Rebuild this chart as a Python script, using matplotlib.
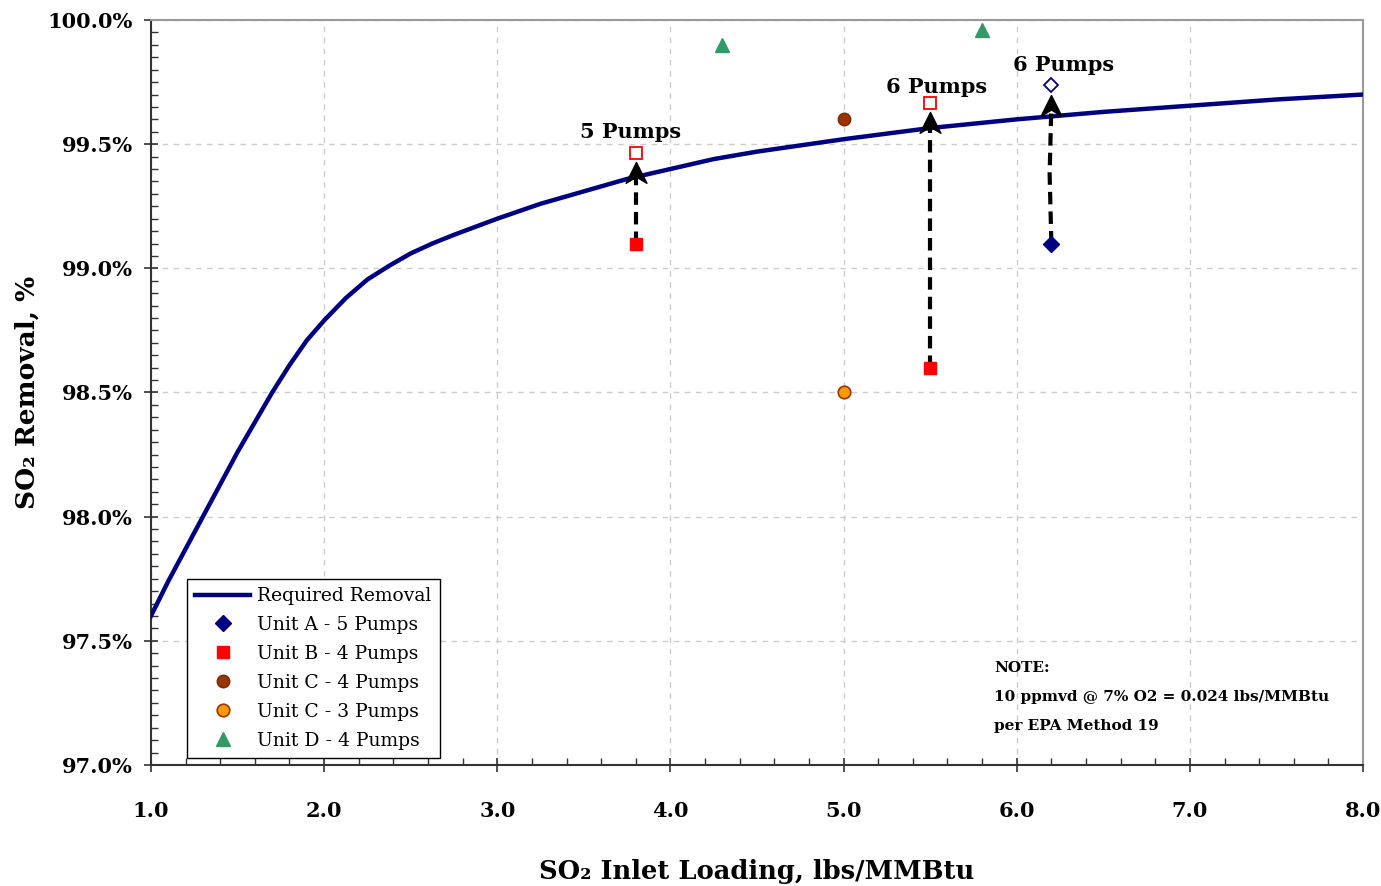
import matplotlib
matplotlib.use("Agg")
import matplotlib.pyplot as plt
from matplotlib.path import Path
from matplotlib.ticker import MultipleLocator, FuncFormatter

plt.rcParams['font.family'] = ['DejaVu Serif', 'DejaVu Sans']

# required removal curve
load = [1.0, 1.1, 1.2, 1.3, 1.4, 1.5, 1.6, 1.7, 1.8, 1.9, 2.0, 2.125, 2.25, 2.375,
        2.5, 2.625, 2.75, 3.0, 3.25, 3.5, 3.75, 4.0, 4.25, 4.5, 5.0, 5.5, 6.0,
        6.5, 7.0, 7.5, 8.0]
required = [97.60, 97.74, 97.87, 98.00, 98.13, 98.26, 98.38, 98.50, 98.61, 98.71,
            98.79, 98.88, 98.955, 99.01, 99.06, 99.10, 99.135, 99.20, 99.26, 99.31,
            99.36, 99.40, 99.44, 99.47, 99.52, 99.565, 99.60, 99.63, 99.655, 99.68,
            99.70]

# unit test points
unit_a_x, unit_a_y = [6.2], [99.10]
unit_b_x, unit_b_y = [3.8, 5.5], [99.10, 98.60]
unit_c4_x, unit_c4_y = [5.0], [99.60]
unit_c3_x, unit_c3_y = [5.0], [98.50]
unit_d_x, unit_d_y = [4.3, 5.8], [99.90, 99.96]

# added pumps
more_b_x, more_b_y = [3.8, 5.5], [99.465, 99.665]
more_a_x, more_a_y = [6.2], [99.74]

# arrows: start, tip, label
arrow_x = [3.8, 5.5, 6.2]
arrow_start = [99.10, 98.60, 99.10]
arrow_tip = [99.43, 99.63, 99.70]
pump_labels = ['5 Pumps', '6 Pumps', '6 Pumps']
label_x = [3.77, 5.535, 6.27]
label_y = [99.55, 99.73, 99.82]

fig = plt.figure(figsize=(13.81, 8.86), dpi=100)
ax = fig.add_axes([0.1093, 0.1366, 0.8777, 0.8408])

ax.plot(load, required, color='#000080', lw=3.2, label='Required Removal', zorder=4)

ax.plot(unit_a_x, unit_a_y, 'D', color='#000080', ms=8.5, ls='none', label='Unit A - 5 Pumps', zorder=6)
ax.plot(unit_b_x, unit_b_y, 's', color='#ff0000', ms=8.5, ls='none', label='Unit B - 4 Pumps', zorder=6)
ax.plot(unit_c4_x, unit_c4_y, 'o', mfc='#993300', mec='#7a2800', ms=9, ls='none', label='Unit C - 4 Pumps', zorder=6)
ax.plot(unit_c3_x, unit_c3_y, 'o', mfc='#ff9900', mec='#993300', mew=1.2, ms=9, ls='none', label='Unit C - 3 Pumps', zorder=6)
ax.plot(unit_d_x, unit_d_y, '^', color='#339966', ms=10.5, ls='none', label='Unit D - 4 Pumps', zorder=6)

ax.plot(more_b_x, more_b_y, 's', mfc='white', mec='#ff0000', mew=1.3, ms=8.5, ls='none', zorder=6)
ax.plot(more_a_x, more_a_y, 'D', mfc='white', mec='#000080', mew=1.3, ms=7, ls='none', zorder=6)

# stealth style arrow head, tip at the data point
head = Path([(0, 0), (-0.5, -1), (0, -0.7), (0.5, -1), (0, 0)],
            [Path.MOVETO, Path.LINETO, Path.LINETO, Path.LINETO, Path.CLOSEPOLY])
for i in range(len(arrow_x)):
    xs = [arrow_x[i], arrow_x[i]]
    ys = [arrow_start[i], arrow_tip[i] - 0.04]
    if i == 2:
        xs = [arrow_x[i], arrow_x[i] - 0.01, arrow_x[i]]
        ys = [arrow_start[i], 99.38, arrow_tip[i] - 0.04]
    ax.plot(xs, ys, color='black', lw=3, dashes=(3, 1.7), zorder=5)
    ax.plot(arrow_x[i], arrow_tip[i], marker=head, color='black', ms=30, zorder=7)
    ax.text(label_x[i], label_y[i], pump_labels[i], ha='center', va='center',
            fontsize=15, fontweight='bold', zorder=8)

ax.text(5.87, 97.42, 'NOTE:\n10 ppmvd @ 7% O2 = 0.024 lbs/MMBtu\nper EPA Method 19',
        ha='left', va='top', fontsize=11, fontweight='bold', linespacing=2.4)

ax.set_xlim(1.0, 8.0)
ax.set_ylim(97.0, 100.0)
ax.xaxis.set_major_locator(MultipleLocator(1.0))
ax.xaxis.set_minor_locator(MultipleLocator(0.2))
ax.yaxis.set_major_locator(MultipleLocator(0.5))
ax.yaxis.set_minor_locator(MultipleLocator(0.05))
ax.xaxis.set_major_formatter(FuncFormatter(lambda v, p: f'{v:.1f}'))
ax.yaxis.set_major_formatter(FuncFormatter(lambda v, p: f'{v:.1f}%'))

ax.tick_params(axis='both', which='major', direction='inout', length=10, width=1.2,
               labelsize=15, color='#333333')
ax.tick_params(axis='both', which='minor', direction='in', length=5, width=1.0, color='#333333')
ax.tick_params(axis='x', which='major', pad=21)
ax.tick_params(axis='y', which='major', pad=8)
for lbl in ax.get_xticklabels() + ax.get_yticklabels():
    lbl.set_fontweight('bold')

ax.grid(True, which='major', ls=(0, (4, 4)), color='#cccccc', lw=1)
for side in ['left', 'bottom']:
    ax.spines[side].set_color('#333333')
    ax.spines[side].set_linewidth(1.5)
for side in ['top', 'right']:
    ax.spines[side].set_color('#999999')
    ax.spines[side].set_linewidth(1.5)

ax.set_xlabel('SO₂ Inlet Loading, lbs/MMBtu', fontsize=18.5, fontweight='bold', labelpad=27)
ax.set_ylabel('SO₂ Removal, %', fontsize=19, fontweight='bold', labelpad=6)

leg = ax.legend(loc='lower left', bbox_to_anchor=(0.0297, 0.0094), fontsize=13.5,
                fancybox=False, framealpha=1, edgecolor='black', handlelength=2.9,
                borderpad=0.45, labelspacing=0.58, handletextpad=0.4, borderaxespad=0)
leg.get_frame().set_linewidth(1.0)
leg.set_zorder(10)

fig.savefig('out.png', dpi=100)
